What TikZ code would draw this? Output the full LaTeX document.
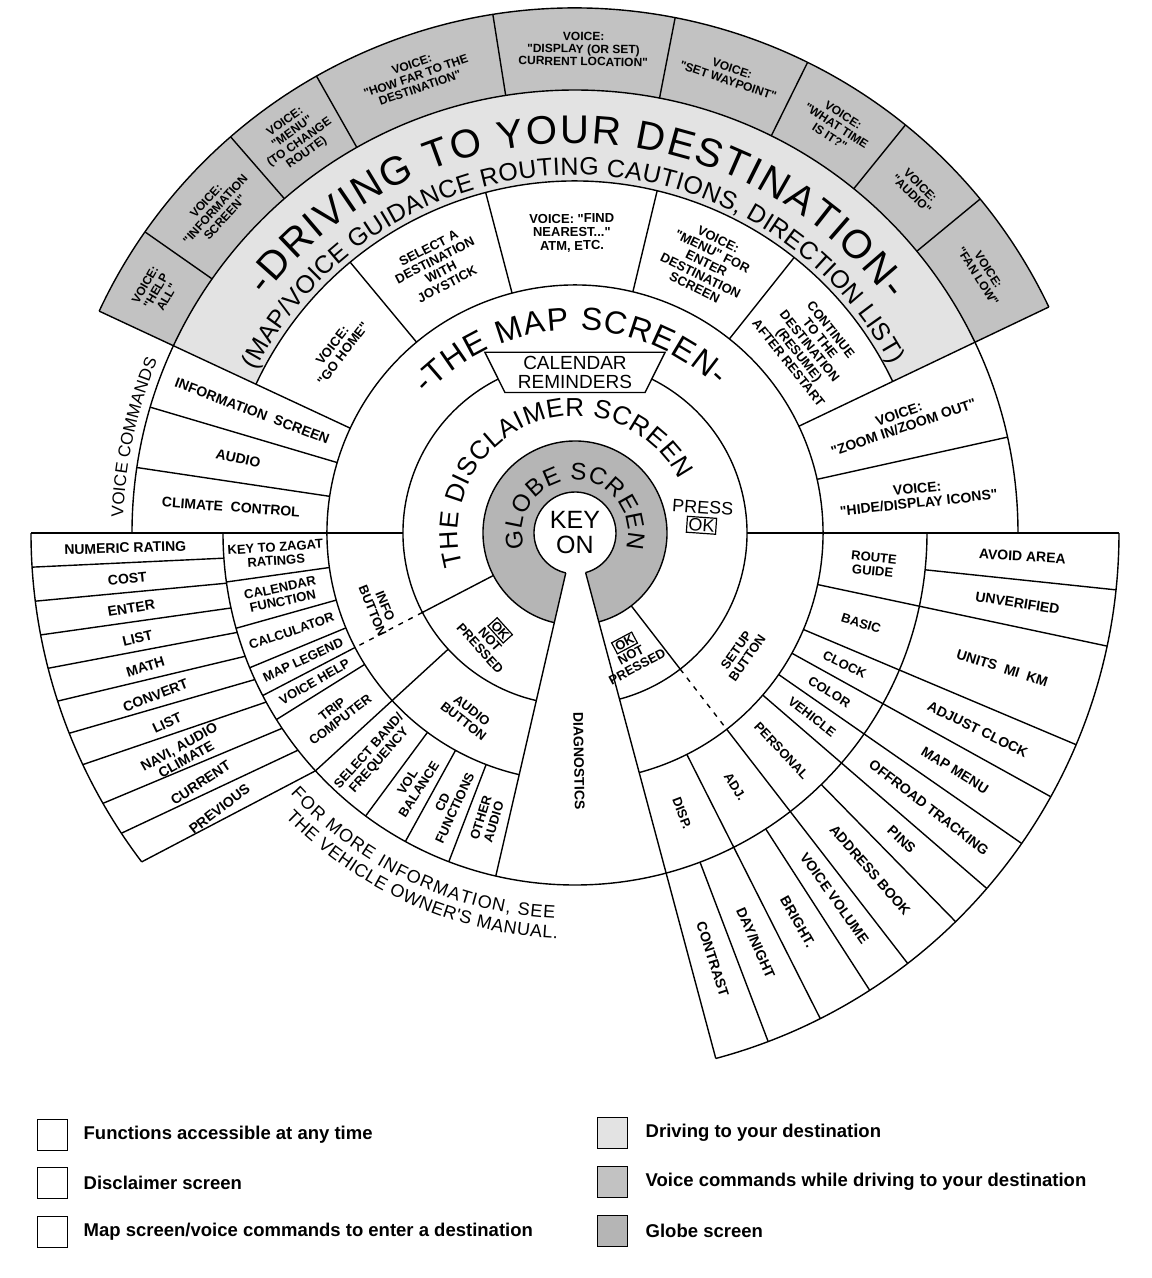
\documentclass[tikz,border=0pt]{standalone}
\usepackage{fontspec}
\setmainfont{Liberation Sans}[Ligatures=TeXOff]
\usetikzlibrary{decorations.text,positioning}

% sector anular: angulo inicial, angulo final, radio interior, radio exterior
\newcommand{\anillo}[4]{(#1:#3pt) arc[start angle=#1,end angle=#2,radius=#3pt] -- (#2:#4pt) arc[start angle=#2,end angle=#1,radius=#4pt] -- cycle}
% texto sobre arco: radio, angulo inicial, angulo final, tamano, texto
\newcommand{\textoarco}[5]{\path[decorate,decoration={text along path,text align={fit to path},text={|\fontsize{#4}{#4}\selectfont|#5}}] (#2:#1pt) arc[start angle=#2,end angle=#3,radius=#1pt];}
\newcommand{\cajaok}{{\setlength{\fboxsep}{1pt}\setlength{\fboxrule}{1.2pt}\fbox{OK}}}

\begin{document}
\begin{tikzpicture}[x=1pt, y=1pt,
    borde/.style={line width=1.4pt},
    punteado/.style={line width=1.4pt, dash pattern=on 5pt off 6pt},
    etiq/.style={font=\bfseries\fontsize{14}{14.5}\selectfont, align=center, inner sep=0pt},
    etiqm/.style={font=\bfseries\fontsize{13}{13.5}\selectfont, align=center, inner sep=0pt},
    etiqp/.style={font=\bfseries\fontsize{12}{12.5}\selectfont, align=center, inner sep=0pt},
    grande/.style={font=\fontsize{#1}{#1}\selectfont, align=center, inner sep=0pt},
    muestra/.style={draw, line width=1pt, minimum width=30pt, minimum height=31pt, inner sep=0pt},
    leyenda/.style={font=\bfseries\fontsize{18.5}{18.5}\selectfont, inner sep=0pt}]

    \useasboundingbox (-575,-745) rectangle (577,533);
    \coordinate (C) at (0,0);

    % --- RELLENOS ---
    \fill[gray!48] \anillo{25.5}{155}{443}{525};   % comandos de voz al conducir
    \fill[gray!22] \anillo{25.5}{155}{352}{443};   % conduciendo al destino
    \fill[gray!58] \anillo{-75}{257}{41}{92};      % pantalla del globo

    % --- CIRCULOS ---
    \foreach \r in {41pt,92pt,172pt,248pt}
        \draw[borde] (-75:\r) arc[start angle=-75, end angle=257, radius=\r];
    \draw[borde] (25.5:352pt) arc[start angle=25.5, end angle=155, radius=352pt];
    \draw[borde] (180:352pt) arc[start angle=180, end angle=360, radius=352pt];
    \draw[borde] (0:443pt) arc[start angle=0, end angle=180, radius=443pt];
    \draw[borde] (25.5:525pt) arc[start angle=25.5, end angle=155, radius=525pt];
    \draw[borde] (180:544pt) arc[start angle=180, end angle=217.2, radius=544pt];
    \draw[borde] (285:544pt) arc[start angle=285, end angle=360, radius=544pt];

    % --- RADIOS ---
    \draw[borde] (0:172pt) -- (0:544pt);
    \draw[borde] (180:172pt) -- (180:544pt);
    \foreach \a in {25.5,155} \draw[borde] (\a:248pt) -- (\a:525pt);
    \foreach \a in {51.5,76.5,104.7,129.7} \draw[borde] (\a:248pt) -- (\a:352pt);
    \foreach \a in {39.5,51,63.7,79,99,119.5,131,145} \draw[borde] (\a:443pt) -- (\a:525pt);
    \foreach \a in {12.5,163.5,171.5} \draw[borde] (\a:248pt) -- (\a:443pt);
    % lado izquierdo (info / audio)
    \foreach \a in {188,195.7,202.5,212,233.5,241.2,249} \draw[borde] (\a:248pt) -- (\a:352pt);
    \draw[borde] (207.5:92pt) -- (207.5:172pt);
    \draw[punteado] (207.5:172pt) -- (207.5:248pt);
    \draw[borde] (207.5:248pt) -- (207.5:352pt);
    \draw[borde] (222.5:172pt) -- (222.5:352pt);
    \foreach \a/\b in {184.1/183.6, 188.2/187.2, 192.3/190.8, 196.4/194.4, 200.5/198,
                       204.6/201.6, 208.7/205.2, 213.7/209.8, 218.1/213.5, 222.5/217.2}
        \draw[borde] (\a:352pt) -- (\b:544pt);
    % cuña de diagnostics
    \draw[borde] (257:41pt) -- (257:352pt);
    \draw[borde] (285:41pt) -- (285:544pt);
    % lado derecho (setup)
    \draw[borde] (307.7:92pt) -- (307.7:172pt);
    \draw[punteado] (307.7:172pt) -- (307.7:248pt);
    \foreach \a in {296.8,307.7,319.2,325.2,331,337.1,348} \draw[borde] (\a:248pt) -- (\a:544pt);
    \foreach \a in {290.8,302.8,314.4,354} \draw[borde] (\a:352pt) -- (\a:544pt);

    % --- RECORDATORIOS ---
    \draw[borde, fill=white] (63.5:157pt) -- (63.5:202pt) -- (116.5:202pt) -- (116.5:157pt) -- cycle;
    \node[grande=19] (calendario) at (90:161pt) {CALENDAR\\REMINDERS};

    % --- TEXTOS CURVOS ---
    \textoarco{53}{197}{-17}{24}{GLOBE SCREEN}
    \textoarco{117}{196}{27}{26}{THE DISCLAIMER SCREEN}
    \textoarco{203}{137}{46}{32}{-THE MAP SCREEN-}
    \textoarco{390}{142.6}{36.5}{40}{-DRIVING TO YOUR DESTINATION-}
    \textoarco{358}{153}{28}{25}{(MAP/VOICE GUIDANCE ROUTING CAUTIONS, DIRECTION LIST)}
    \textoarco{452}{178}{157.5}{17}{VOICE COMMANDS}
    \textoarco{386}{222.5}{267}{18}{FOR MORE INFORMATION, SEE}
    \textoarco{406}{224.5}{267.5}{18}{THE VEHICLE OWNER'S MANUAL.}

    % --- CENTRO ---
    \node[grande=25] (llave) at (C) {KEY\\ON};
    \node[grande=18, rotate=-4] (pulsar) at (7:128pt) {PRESS\\\cajaok};
    \node[etiqm, rotate=-48] (nopulsado1) at (231.5:135pt) {\cajaok\\NOT\\PRESSED};
    \node[etiqm, rotate=28] (nopulsado2) at (294.6:133pt) {\cajaok\\NOT\\PRESSED};
    \node[etiqm, rotate=-68] (info) at (201:210pt) {INFO\\BUTTON};
    \node[etiqm, rotate=-38] (audio) at (239.6:212pt) {AUDIO\\BUTTON};
    \node[etiqm, rotate=55] (setup) at (324:206pt) {SETUP\\BUTTON};
    \node[etiq, rotate=-89] (diag) at (271:228pt) {DIAGNOSTICS};

    % --- PANTALLA DEL MAPA: DESTINOS ---
    \foreach \ang/\nom/\txt in {142.3/gohome/{VOICE:\\"GO HOME"},
                               117.2/joystick/{SELECT A\\DESTINATION\\WITH\\JOYSTICK},
                               90.6/nearest/{VOICE: "FIND\\NEAREST..."\\ATM, ETC.},
                               64/menudest/{VOICE:\\"MENU" FOR\\ENTER\\DESTINATION\\SCREEN},
                               38.5/resume/{CONTINUE\\TO THE\\DESTINATION\\(RESUME)\\AFTER RESTART}}
        \node[etiqm, rotate=\ang-90] (\nom) at (\ang:300pt) {\txt};

    % --- COMANDOS DE VOZ AL CONDUCIR ---
    \foreach \ang/\nom/\txt in {150/vhelp/{VOICE:\\"HELP\\ALL"},
                               138/vinfo/{VOICE:\\"INFORMATION\\SCREEN"},
                               125.2/vmenu/{VOICE:\\"MENU"\\(TO CHANGE\\ROUTE)},
                               109.2/vhowfar/{VOICE:\\"HOW FAR TO THE\\DESTINATION"},
                               89/vloc/{VOICE:\\"DISPLAY (OR SET)\\CURRENT LOCATION"},
                               71.3/vway/{VOICE:\\"SET WAYPOINT"},
                               57.3/vtime/{VOICE:\\"WHAT TIME\\IS IT?"},
                               45.2/vaudio/{VOICE:\\"AUDIO"},
                               32.5/vfan/{VOICE:\\"FAN LOW"}}
        \node[etiqp, rotate=\ang-90] (\nom) at (\ang:484pt) {\txt};

    % --- COMANDOS DE VOZ ---
    \foreach \ang/\nom/\txt in {159.3/infoscreen/{INFORMATION\ \ SCREEN},
                               167.5/audiocmd/{AUDIO},
                               175.7/climate/{CLIMATE\ \ CONTROL}}
        \node[etiq, rotate=\ang-180] (\nom) at (\ang:345pt) {\txt};
    \foreach \ang/\nom/\txt in {19/zoom/{VOICE:\\"ZOOM IN/ZOOM OUT"},
                               6.2/icons/{VOICE:\\"HIDE/DISPLAY ICONS"}}
        \node[etiq, rotate=\ang] (\nom) at (\ang:345pt) {\txt};

    % --- INFO Y AUDIO ---
    \foreach \ang/\nom/\txt in {184/zagat/{KEY TO ZAGAT\\RATINGS},
                               191.85/calfun/{CALENDAR\\FUNCTION},
                               199.1/calc/{CALCULATOR},
                               205/legend/{MAP LEGEND},
                               209.75/vhelpb/{VOICE HELP},
                               217.25/trip/{TRIP\\COMPUTER},
                               228/band/{SELECT BAND/\\FREQUENCY},
                               237.35/vol/{VOL\\BALANCE},
                               245.1/cd/{CD\\FUNCTIONS},
                               253/other/{OTHER\\AUDIO}}
        \node[etiqm, rotate=\ang-180] (\nom) at (\ang:300pt) {\txt};
    \foreach \ang/\nom/\txt in {181.9/numeric/{NUMERIC RATING},
                               185.8/cost/{COST},
                               189.6/enter/{ENTER},
                               193.5/list/{LIST},
                               197.3/math/{MATH},
                               201.2/convert/{CONVERT},
                               205/listb/{LIST},
                               209.3/navi/{NAVI, AUDIO\\CLIMATE},
                               213.7/current/{CURRENT},
                               217.8/previous/{PREVIOUS}}
        \node[etiq, rotate=\ang-180] (\nom) at (\ang:450pt) {\txt};

    % --- SETUP ---
    \foreach \ang/\nom/\txt in {354/route/{ROUTE\\GUIDE},
                               342.5/basic/{BASIC},
                               334/clock/{CLOCK},
                               328/color/{COLOR},
                               322.2/vehicle/{VEHICLE},
                               313.5/personal/{PERSONAL},
                               302.25/adj/{ADJ.},
                               290.9/disp/{DISP.}}
        \node[etiqm, rotate=\ang] (\nom) at (\ang:300pt) {\txt};
    \foreach \ang/\nom/\txt in {357/avoid/{AVOID AREA},
                               351/unverified/{UNVERIFIED},
                               342.5/units/{UNITS\ \ MI\ \ KM},
                               334/adjclock/{ADJUST CLOCK},
                               328/mapmenu/{MAP MENU},
                               322.2/offroad/{OFFROAD TRACKING},
                               316.8/pins/{PINS},
                               311.2/address/{ADDRESS BOOK},
                               305.4/voicevol/{VOICE VOLUME},
                               299.8/bright/{BRIGHT.},
                               293.8/daynight/{DAY/NIGHT},
                               287.9/contrast/{CONTRAST}}
        \node[etiq, rotate=\ang] (\nom) at (\ang:448pt) {\txt};

    % --- LEYENDA ---
    \node[muestra, fill=white] (sw1) at (-522,-602) {};
    \node[muestra, fill=white] (sw2) at (-522,-650) {};
    \node[muestra, fill=white] (sw3) at (-522,-699) {};
    \node[muestra, fill=gray!22] (sw4) at (38,-600) {};
    \node[muestra, fill=gray!48] (sw5) at (38,-649) {};
    \node[muestra, fill=gray!58] (sw6) at (38,-698) {};
    \node[leyenda, right=15pt of sw1] (ly1) {Functions accessible at any time};
    \node[leyenda, right=15pt of sw2] (ly2) {Disclaimer screen};
    \node[leyenda, right=15pt of sw3] (ly3) {Map screen/voice commands to enter a destination};
    \node[leyenda, right=17pt of sw4] (ly4) {Driving to your destination};
    \node[leyenda, right=17pt of sw5] (ly5) {Voice commands while driving to your destination};
    \node[leyenda, right=17pt of sw6] (ly6) {Globe screen};

\end{tikzpicture}
\end{document}
